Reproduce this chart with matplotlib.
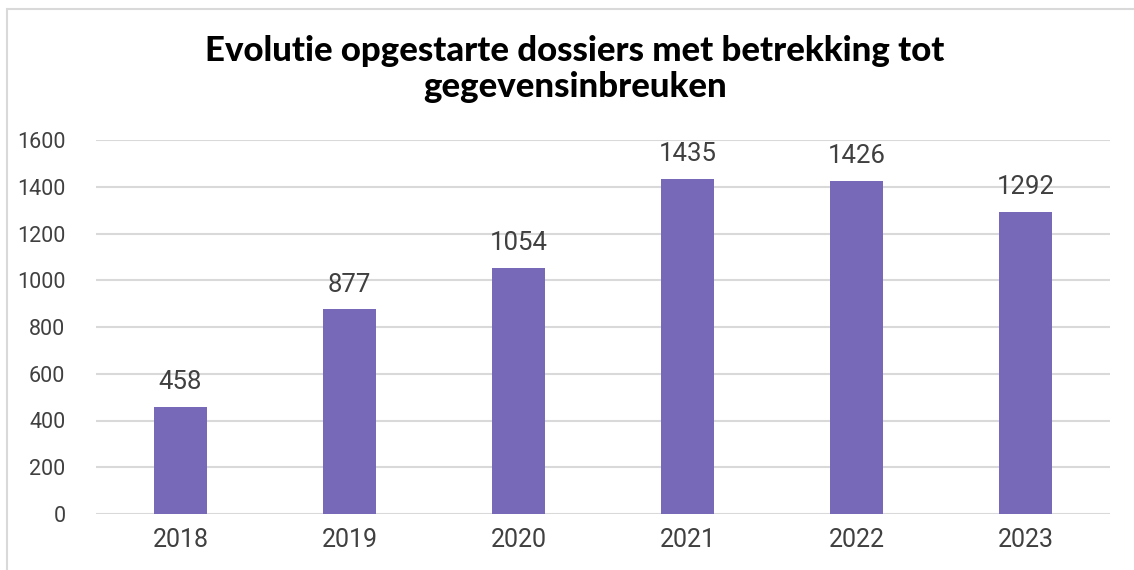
import matplotlib.pyplot as plt
from matplotlib.patches import Rectangle

# data
jaren = ["2018", "2019", "2020", "2021", "2022", "2023"]
dossiers = [458, 877, 1054, 1435, 1426, 1292]
y_ticks = [0, 200, 400, 600, 800, 1000, 1200, 1400, 1600]

titel = "Evolutie opgestarte dossiers met betrekking tot\ngegevensinbreuken"

W, H = 1134, 570
fig = plt.figure(figsize=(W / 100, H / 100), dpi=100)
fig.patch.set_facecolor("white")

# chart frame (cropped at right/bottom)
fig.patches.append(Rectangle((7 / W, -0.1), 1.2, 1 - 9 / H + 0.1,
                             transform=fig.transFigure, fill=False,
                             edgecolor="#d9d9d9", linewidth=1.5))

ax = fig.add_axes([96 / W, 1 - 514 / H, (1110 - 96) / W, (514 - 140) / H])
x = range(len(jaren))
ax.bar(x, dossiers, width=0.31, color="#7869B8", zorder=3)

for xi, v in zip(x, dossiers):
    ax.annotate(str(v), (xi, v), xytext=(0, 9), textcoords="offset points",
                ha="center", va="bottom", fontsize=18.5, color="#404040",
                family="Roboto")

ax.set_xlim(-0.5, len(jaren) - 0.5)
ax.set_ylim(0, 1600)
ax.set_yticks(y_ticks)
ax.set_xticks(list(x))
ax.set_xticklabels(jaren)
ax.yaxis.grid(True, color="#d9d9d9", linewidth=1.5, zorder=0)
ax.set_axisbelow(True)
for s in ax.spines.values():
    s.set_visible(False)
ax.tick_params(length=0)
ax.tick_params(axis="y", labelsize=15.5, labelcolor="#404040", pad=22)
ax.tick_params(axis="x", labelsize=18, labelcolor="#404040", pad=10)
for lab in ax.get_xticklabels() + ax.get_yticklabels():
    lab.set_family("Roboto")

fig.text(575 / W, 1 - 69 / H, titel, ha="center", va="center",
         fontsize=25, fontweight="black", family="Lato", linespacing=1.12)

fig.savefig("out.png", dpi=100)
